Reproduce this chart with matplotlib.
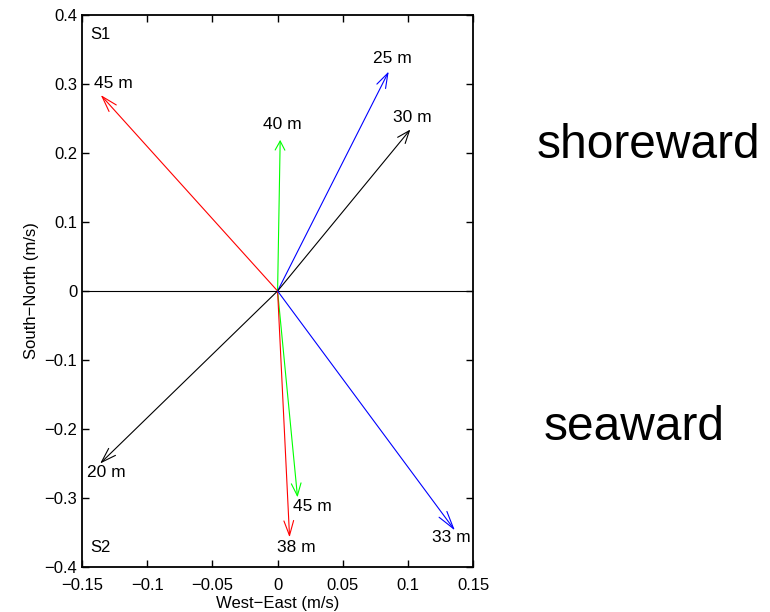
import numpy as np
import matplotlib
matplotlib.use('Agg')
import matplotlib.pyplot as plt

plt.rcParams['font.family'] = ['Liberation Sans', 'DejaVu Sans']
plt.rcParams['font.size'] = 12

# current vectors (u = west-east, v = south-north), m/s
depth = ['45 m', '40 m', '25 m', '30 m', '20 m', '45 m', '38 m', '33 m']
u = [-0.1356, 0.0020, 0.0852, 0.1018, -0.1361, 0.0153, 0.0092, 0.1360]
v = [0.284, 0.219, 0.318, 0.234, -0.250, -0.299, -0.357, -0.347]
colors = ['r', 'lime', 'b', 'k', 'k', 'lime', 'r', 'b']
# where each depth label sits (data coords)
lab_x = [-0.126, 0.004, 0.088, 0.103, -0.131, 0.027, 0.014, 0.133]
lab_y = [0.300, 0.242, 0.337, 0.252, -0.263, -0.312, -0.371, -0.357]

fig = plt.figure(figsize=(7.7, 6.12), dpi=100)
ax = fig.add_axes([0.1065, 0.0735, 0.508, 0.902])
ax.set_xlim(-0.15, 0.15)
ax.set_ylim(-0.4, 0.4)
ax.set_xticks(np.arange(-0.15, 0.151, 0.05))
ax.set_yticks(np.arange(-0.4, 0.401, 0.1))
ax.set_xticklabels(['−0.15', '−0.1', '−0.05', '0', '0.05', '0.1', '0.15'])
ax.set_yticklabels(['−0.4', '−0.3', '−0.2', '−0.1', '0', '0.1', '0.2', '0.3', '0.4'])
ax.tick_params(direction='in', top=True, right=True, length=5, width=1, labelsize=12)
ax.tick_params(axis='x', pad=8)
for s in ax.spines.values():
    s.set_linewidth(1.3)

ax.plot([-0.15, 0.15], [0, 0], color='k', lw=0.8)

for i in range(len(u)):
    p0 = ax.transData.transform((0, 0))
    p1 = ax.transData.transform((u[i], v[i]))
    L = np.hypot(*(p1 - p0)) * 72 / fig.dpi   # length in points
    hl = 0.06 * L
    ax.annotate('', xy=(u[i], v[i]), xytext=(0, 0),
                arrowprops=dict(arrowstyle='->,head_length=%.2f,head_width=%.2f' % (hl / 10, 3.5 / 10),
                                color=colors[i], lw=0.8, mutation_scale=10,
                                shrinkA=0, shrinkB=0))
    ax.text(lab_x[i], lab_y[i], depth[i], ha='center', va='center', fontsize=12.5)

ax.text(-0.144, 0.372, 'S1', ha='left', va='center', fontsize=12)
ax.text(-0.144, -0.371, 'S2', ha='left', va='center', fontsize=12)

ax.set_xlabel('West−East (m/s)', fontsize=12, labelpad=2)
ax.set_ylabel('South−North (m/s)', fontsize=12, labelpad=4)

fig.text(648 / 770, 1 - 145 / 612, 'shoreward', ha='center', va='center', fontsize=34.5)
fig.text(634 / 770, 1 - 428 / 612, 'seaward', ha='center', va='center', fontsize=34.5)

fig.savefig('out.png', dpi=100)
